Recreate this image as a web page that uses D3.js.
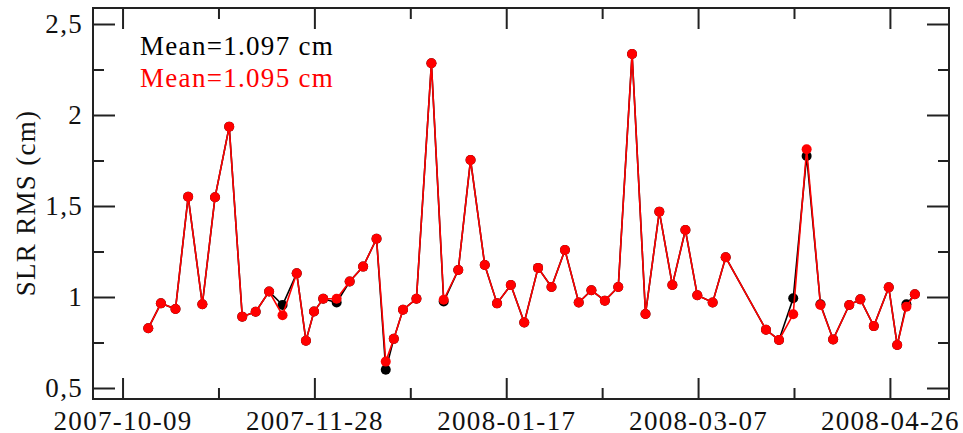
<!DOCTYPE html>
<html>
<head>
<meta charset="utf-8">
<script src="https://cdn.jsdelivr.net/npm/d3@7"></script>
<style>
  body { margin: 0; background: #fff; }
  text { font-family: "Liberation Serif", "Times New Roman", serif; }
</style>
</head>
<body>
<script>
// arc epochs (MJD) and SLR RMS per arc
const mjd = [
    54388.7, 54392.0, 54395.8, 54399.1, 54402.8, 54406.1, 54409.8, 54413.2, 54416.7, 54420.2,
    54423.7, 54427.4, 54429.8, 54431.9, 54434.3, 54437.8, 54441.2, 54444.7, 54448.2, 54450.6,
    54452.7, 54455.1, 54458.6, 54462.5, 54465.7, 54469.5, 54472.7, 54476.4, 54479.6, 54483.2,
    54486.7, 54490.3, 54493.8, 54497.3, 54500.9, 54504.2, 54507.7, 54511.2, 54514.8, 54518.3,
    54521.9, 54525.3, 54528.7, 54531.8, 54535.8, 54539.2, 54549.7, 54553.1, 54556.8, 54560.3,
    54563.9, 54567.2, 54571.4, 54574.3, 54577.8, 54581.7, 54583.9, 54586.3, 54588.5
];

const rmsBlack = [
    0.828, 0.965, 0.934, 1.551, 0.960, 1.548, 1.936, 0.892, 0.919, 1.030,
    0.956, 1.130, 0.760, 0.920, 0.990, 0.970, 1.085, 1.167, 1.320, 0.600,
    0.770, 0.930, 0.990, 2.284, 0.975, 1.148, 1.753, 1.176, 0.965, 1.066,
    0.860, 1.160, 1.055, 1.258, 0.970, 1.037, 0.980, 1.055, 2.335, 0.907,
    1.469, 1.066, 1.368, 1.010, 0.970, 1.218, 0.820, 0.764, 0.993, 1.775,
    0.960, 0.767, 0.956, 0.987, 0.840, 1.053, 0.736, 0.960, 1.015
];

const rmsRed = [
    0.828, 0.965, 0.934, 1.551, 0.960, 1.548, 1.936, 0.892, 0.919, 1.030,
    0.900, 1.130, 0.760, 0.920, 0.990, 0.990, 1.085, 1.167, 1.320, 0.645,
    0.770, 0.930, 0.990, 2.284, 0.985, 1.148, 1.753, 1.176, 0.965, 1.066,
    0.860, 1.160, 1.055, 1.258, 0.970, 1.037, 0.980, 1.055, 2.335, 0.907,
    1.469, 1.066, 1.368, 1.010, 0.970, 1.218, 0.820, 0.764, 0.905, 1.812,
    0.956, 0.767, 0.956, 0.987, 0.840, 1.053, 0.736, 0.947, 1.015
];

const legendLabels = ['Mean=1.097 cm', 'Mean=1.095 cm'];
const yMajorTicks = [0.5, 1, 1.5, 2, 2.5];
const yMinorTicks = [0.75, 1.25, 1.75, 2.25];
const xTickStart = '2007-10-09';
const xTickStepDays = 25;
const xTickCount = 9;

const mjdToDate = (m) => new Date((m - 40587) * 86400000);

window.onload = () => {
    const width = 963;
    const height = 433;
    const left = 93, right = 949, top = 8, bottom = 399;

    const svg = d3.select('body')
                  .append('svg')
                  .attr('width', width)
                  .attr('height', height);

    const x = d3.scaleUtc()
                .domain([mjdToDate(54374.3), mjdToDate(54597.4)])
                .range([left, right]);

    const y = d3.scaleLinear()
                .domain([0.5, 2.5])
                .range([388, 24]);

    const start = new Date(xTickStart + 'T00:00:00Z');
    const xTicks = d3.range(xTickCount).map(i => d3.utcDay.offset(start, i * xTickStepDays));
    const xMajor = xTicks.filter((d, i) => i % 2 === 0);
    const xMinor = xTicks.filter((d, i) => i % 2 === 1);

    const fmtY = d => d3.format('.1~f')(d).replace('.', ',');
    const fmtX = d3.utcFormat('%Y-%m-%d');

    const styleAxis = (g) => {
        g.select('.domain').remove();
        g.selectAll('line').attr('stroke', '#222').attr('stroke-width', 2);
        g.selectAll('text')
         .attr('fill', '#111')
         .style('font-size', '27px')
         .style('letter-spacing', '1.3px');
    };

    // bottom
    svg.append('g')
       .attr('transform', `translate(0,${bottom})`)
       .call(d3.axisBottom(x).tickValues(xMajor).tickSize(-21).tickPadding(12).tickFormat(fmtX))
       .call(styleAxis);
    svg.append('g')
       .attr('transform', `translate(0,${bottom})`)
       .call(d3.axisBottom(x).tickValues(xMinor).tickSize(-11).tickFormat(''))
       .call(styleAxis);

    // top
    svg.append('g')
       .attr('transform', `translate(0,${top})`)
       .call(d3.axisTop(x).tickValues(xMajor).tickSize(-21).tickFormat(''))
       .call(styleAxis);
    svg.append('g')
       .attr('transform', `translate(0,${top})`)
       .call(d3.axisTop(x).tickValues(xMinor).tickSize(-11).tickFormat(''))
       .call(styleAxis);

    // left
    svg.append('g')
       .attr('transform', `translate(${left},0)`)
       .call(d3.axisLeft(y).tickValues(yMajorTicks).tickSize(-22).tickPadding(10).tickFormat(fmtY))
       .call(styleAxis);
    svg.append('g')
       .attr('transform', `translate(${left},0)`)
       .call(d3.axisLeft(y).tickValues(yMinorTicks).tickSize(-11).tickFormat(''))
       .call(styleAxis);

    // right
    svg.append('g')
       .attr('transform', `translate(${right},0)`)
       .call(d3.axisRight(y).tickValues(yMajorTicks).tickSize(-22).tickFormat(''))
       .call(styleAxis);
    svg.append('g')
       .attr('transform', `translate(${right},0)`)
       .call(d3.axisRight(y).tickValues(yMinorTicks).tickSize(-11).tickFormat(''))
       .call(styleAxis);

    // frame
    svg.append('rect')
       .attr('x', left)
       .attr('y', top)
       .attr('width', right - left)
       .attr('height', bottom - top)
       .attr('fill', 'none')
       .attr('stroke', '#222')
       .attr('stroke-width', 2);

    // y label
    svg.append('text')
       .attr('transform', 'translate(35,203) rotate(-90)')
       .attr('text-anchor', 'middle')
       .style('font-size', '27px')
       .style('letter-spacing', '1.3px')
       .attr('fill', '#111')
       .text('SLR RMS (cm)');

    const drawSeries = (values, color) => {
        const pts = mjd.map((m, i) => ({ date: mjdToDate(m), v: values[i] }));
        const line = d3.line().x(d => x(d.date)).y(d => y(d.v));
        svg.append('path')
           .datum(pts)
           .attr('d', line)
           .attr('fill', 'none')
           .attr('stroke', color)
           .attr('stroke-width', 1.6);
        svg.append('g')
           .selectAll('circle')
           .data(pts)
           .enter()
           .append('circle')
           .attr('cx', d => x(d.date))
           .attr('cy', d => y(d.v))
           .attr('r', 5)
           .attr('fill', color);
    };

    drawSeries(rmsBlack, '#000');
    drawSeries(rmsRed, '#ff0000');

    // legend text
    svg.append('text')
       .attr('x', 140)
       .attr('y', 55)
       .style('font-size', '27px')
       .style('letter-spacing', '1.3px')
       .attr('fill', '#000')
       .text(legendLabels[0]);
    svg.append('text')
       .attr('x', 140)
       .attr('y', 87)
       .style('font-size', '27px')
       .style('letter-spacing', '1.3px')
       .attr('fill', '#ff0000')
       .text(legendLabels[1]);
};
</script>
</body>
</html>
